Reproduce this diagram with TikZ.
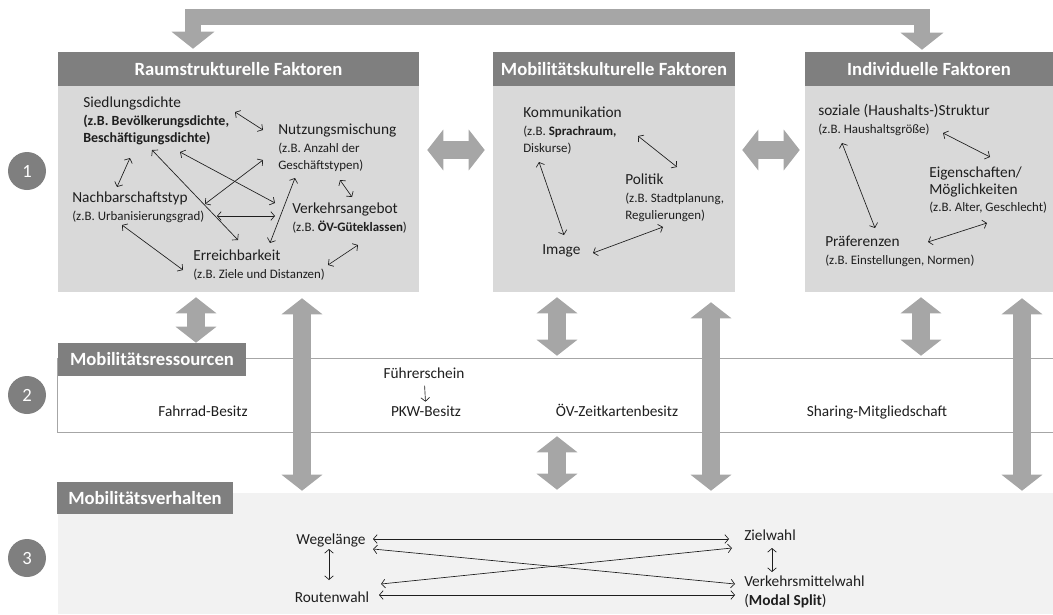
\documentclass[tikz,border=0pt]{standalone}
\usepackage{fontspec}
\setmainfont{Carlito}
\usetikzlibrary{arrows.meta}
\definecolor{hdgray}{HTML}{7F7F7F}
\definecolor{boxgray}{HTML}{D9D9D9}
\definecolor{bandgray}{HTML}{F2F2F2}
\definecolor{arrgray}{HTML}{A6A6A6}
\definecolor{txtc}{HTML}{1E1E1E}
\newcommand\lblhead[1]{{\fontsize{11.5}{13}\selectfont #1}}
\newcommand\lblbold[1]{{\fontsize{10.5}{12.5}\selectfont\bfseries #1}}

\begin{document}
\begin{tikzpicture}[x=0.75pt,y=-0.75pt,
  >={Straight Barb[length=2.8pt,width=6.5pt]},
  hd/.style={fill=hdgray,text=white,inner sep=0pt,font=\fontsize{14}{16}\selectfont\bfseries},
  body/.style={fill=boxgray,inner sep=0pt},
  lbl/.style={anchor=north west,inner sep=0pt,align=left,text=txtc,font=\fontsize{9.7}{12.5}\selectfont},
  txt/.style={inner sep=0pt,text=txtc,font=\fontsize{11.5}{14}\selectfont},
  bandtxt/.style={txt,text height=8.5pt,text depth=2.5pt},
  num/.style={circle,fill=hdgray,text=white,minimum size=28.5pt,inner sep=0pt,font=\fontsize{14}{16}\selectfont},
  link/.style={draw=txtc,line width=0.5pt,<->},
  fat/.style={draw=arrgray,line width=14pt,{Triangle[width=30pt,length=12pt]}-{Triangle[width=30pt,length=12pt]}},
  bandline/.style={draw=arrgray,line width=0.8pt}]
\useasboundingbox (0,0) rectangle (1053,614);

\node[hd,minimum width=270.75pt,minimum height=25.5pt](raumhd) at (238.5,69) {Raumstrukturelle Faktoren};
\node[body,minimum width=270.75pt,minimum height=154.5pt](raum) at (238.5,189) {};
\node[hd,minimum width=181.5pt,minimum height=25.5pt](mobihd) at (614,69) {Mobilitätskulturelle Faktoren};
\node[body,minimum width=181.5pt,minimum height=154.5pt](mobi) at (614,189) {};
\node[hd,minimum width=186pt,minimum height=25.5pt](indihd) at (929,69) {Individuelle Faktoren};
\node[body,minimum width=186pt,minimum height=154.5pt](indi) at (929,189) {};

\node[inner sep=0pt,minimum width=746.25pt,minimum height=54.75pt](res) at (555.5,395.5) {};
\draw[bandline] (res.north east) -- (res.north west) -- (res.south west) -- (res.south east);
\node[hd,minimum width=141pt,minimum height=24.75pt](reshd) at (152,359.5) {Mobilitätsressourcen};
\node[body,fill=bandgray,minimum width=746.25pt,minimum height=90.75pt](beh) at (555.5,553.5) {};
\node[hd,minimum width=132pt,minimum height=24pt](behhd) at (145,498) {Mobilitätsverhalten};

\node[num](n1) at (27,171) {1};
\node[num](n2) at (27,395) {2};
\node[num](n3) at (27,558) {3};

\node[lbl](sied) at (83,97) {\lblhead{Siedlungsdichte}\\[1pt]\lblbold{(z.B. Bevölkerungsdichte,}\\\lblbold{Beschäftigungsdichte)}};
\node[lbl](nutz) at (278,124) {\lblhead{Nutzungsmischung}\\[1pt](z.B. Anzahl der\\Geschäftstypen)};
\node[lbl](nach) at (72,192) {\lblhead{Nachbarschaftstyp}\\[1pt](z.B. Urbanisierungsgrad)};
\node[lbl](verk) at (292,203) {\lblhead{Verkehrsangebot}\\[1pt](z.B. \textbf{ÖV-Güteklassen})};
\node[lbl](erre) at (193,250) {\lblhead{Erreichbarkeit}\\[1pt](z.B. Ziele und Distanzen)};

\draw[link] ([shift={(152,15)}]sied.north west) -- ([shift={(-15,6)}]nutz.north west);
\draw[link] ([shift={(47,61)}]sied.north west) -- ([shift={(45,-5)}]nach.north west);
\draw[link] ([shift={(69,53)}]sied.north west) -- ([shift={(45,-10)}]erre.north west);
\draw[link] ([shift={(97,55)}]sied.north west) -- ([shift={(-17,0)}]verk.north west);
\draw[link] ([shift={(133,12)}]nach.north west) -- ([shift={(-15,36)}]nutz.north west);
\draw[link] ([shift={(145,24)}]nach.north west) -- ([shift={(-17,13)}]verk.north west);
\draw[link] ([shift={(50,33)}]nach.north west) -- ([shift={(-10,20)}]erre.north west);
\draw[link] ([shift={(17,54)}]nutz.north west) -- ([shift={(77,-7)}]erre.north west);
\draw[link] ([shift={(62,56)}]nutz.north west) -- ([shift={(60,-6)}]verk.north west);
\draw[link] ([shift={(66,42)}]verk.north west) -- ([shift={(135,15)}]erre.north west);

\node[lbl](komm) at (523,107) {\lblhead{Kommunikation}\\[1pt](z.B. \textbf{Sprachraum,}\\Diskurse)};
\node[lbl](poli) at (625,174) {\lblhead{Politik}\\[1pt](z.B. Stadtplanung,\\Regulierungen)};
\node[lbl](imag) at (542,244) {\lblhead{Image}};

\draw[link] ([shift={(115,29)}]komm.north west) -- ([shift={(52,-7)}]poli.north west);
\draw[link] ([shift={(16,55)}]komm.north west) -- ([shift={(22,-9)}]imag.north west);
\draw[link] ([shift={(51,9)}]imag.north west) -- ([shift={(38,53)}]poli.north west);

\node[lbl](sozi) at (818,104) {\lblhead{soziale (Haushalts-)Struktur}\\[1pt](z.B. Haushaltsgröße)};
\node[lbl](eige) at (929,167) {\lblhead{Eigenschaften/}\\\lblhead{Möglichkeiten}\\(z.B. Alter, Geschlecht)};
\node[lbl](praf) at (825,236) {\lblhead{Präferenzen}\\[1pt](z.B. Einstellungen, Normen)};

\draw[link] ([shift={(125,29)}]sozi.north west) -- ([shift={(61,-10)}]eige.north west);
\draw[link] ([shift={(24,39)}]sozi.north west) -- ([shift={(50,-8)}]praf.north west);
\draw[link] ([shift={(103,6)}]praf.north west) -- ([shift={(58,56)}]eige.north west);

\node[bandtxt](fuhr) at (424,374) {Führerschein};
\node[bandtxt](pkw) at (426,412) {PKW-Besitz};
\node[bandtxt](fahr) at (203,412) {Fahrrad-Besitz};
\node[bandtxt](oev) at (617,412) {ÖV-Zeitkartenbesitz};
\node[bandtxt](shar) at (877,412) {Sharing-Mitgliedschaft};
\draw[link,-,->,shorten <=3pt,shorten >=2pt] (fuhr) -- (pkw);

\node[txt](wege) at (331,540) {Wegelänge};
\node[txt](rout) at (332,597) {Routenwahl};
\node[txt,anchor=west](ziel) at (744,535) {Zielwahl};
\node[txt,anchor=north west,align=left](verm) at (744,576) {Verkehrsmittelwahl\\(\textbf{Modal Split})};

\draw[link] ([shift={(42,-1)}]wege.center) -- ([shift={(-15,4)}]ziel.west);
\draw[link] ([shift={(42,9)}]wege.center) -- ([shift={(-9,8)}]verm.north west);
\draw[link] ([shift={(49,-13)}]rout.center) -- ([shift={(-12,13)}]ziel.west);
\draw[link] ([shift={(47,-2)}]rout.center) -- ([shift={(-9,19)}]verm.north west);
\draw[link] ([shift={(-2,9)}]wege.center) -- ([shift={(-3,-17)}]rout.center);
\draw[link] ([shift={(28,13)}]ziel.west) -- ([shift={(28,-4)}]verm.north west);

\coordinate (loop) at (0,17);
\coordinate (lpa) at ([shift={(-45.5,-3)}]raumhd.north);
\coordinate (lpb) at ([shift={(-7,-2)}]indihd.north);
\draw[fat,line width=12pt,line join=miter,{Triangle[width=31.5pt,length=12.75pt]}-{Triangle[width=31.5pt,length=12.75pt]}] (lpa) -- (lpa |- loop) -| (lpb);

\draw[fat] ([shift={(8,-39)}]raum.east) -- ([shift={(-8,-39)}]mobi.west);
\draw[fat] ([shift={(7,-39)}]mobi.east) -- ([shift={(-5,-39)}]indi.west);

\draw[fat] ([shift={(-42.5,5)}]raum.south) -- ([shift={(44,0)}]reshd.north);
\draw[fat] ([shift={(-57,5)}]mobi.south) -- ([shift={(1.5,-3)}]res.north);
\draw[fat] ([shift={(-8,5)}]indi.south) -- ([shift={(365.5,-3)}]res.north);
\draw[fat] ([shift={(1.5,4)}]res.south) -- ([shift={(1.5,-3)}]beh.north);

\draw[fat] ([shift={(63.5,6)}]raum.south) -- ([shift={(-253.5,-2)}]beh.north);
\draw[fat] ([shift={(97,10)}]mobi.south) -- ([shift={(155.5,-2)}]beh.north);
\draw[fat] ([shift={(93,6)}]indi.south) -- ([shift={(466.5,-2)}]beh.north);

\end{tikzpicture}
\end{document}
